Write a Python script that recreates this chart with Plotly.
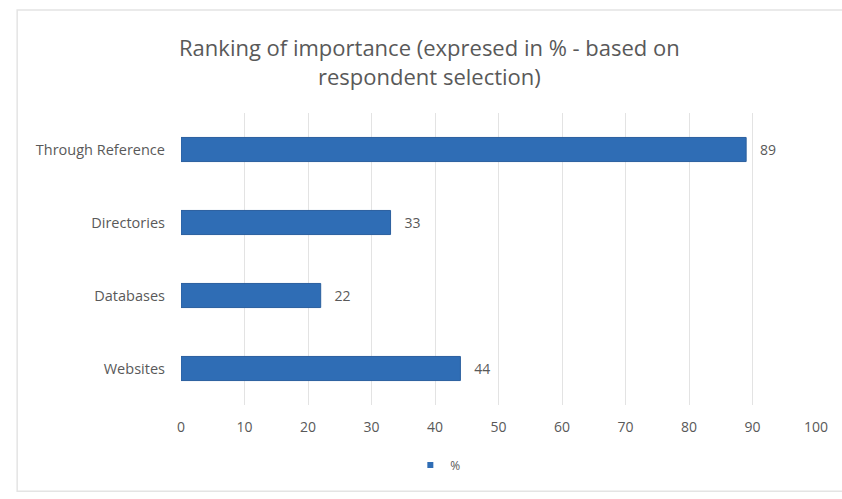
import plotly.graph_objects as go

categories = ["Through Reference", "Directories", "Databases", "Websites"]
values = [89, 33, 22, 44]
x_ticks = [0, 10, 20, 30, 40, 50, 60, 70, 80, 90, 100]

bar_color = "#2F6DB5"
text_color = "#595959"
font_family = "Open Sans"

fig = go.Figure()

fig.add_trace(
    go.Bar(
        y=categories,
        x=values,
        orientation="h",
        name="%",
        marker=dict(color=bar_color, line=dict(color="#2A5F9E", width=1)),
        width=0.33,
        texttemplate="   %{x}",
        textposition="outside",
        textfont=dict(family=font_family, size=14, color=text_color),
        cliponaxis=False,
        showlegend=False,
    )
)

# legend entry with a small square key
fig.add_trace(
    go.Scatter(
        x=[None],
        y=[None],
        mode="markers",
        name="%",
        marker=dict(symbol="square", size=6, color=bar_color),
        showlegend=True,
    )
)

fig.update_layout(
    width=842,
    height=499,
    margin=dict(l=181, r=26, t=113, b=94),
    paper_bgcolor="white",
    plot_bgcolor="white",
    title=dict(
        text="Ranking of importance (expresed in % - based on<br>respondent selection)",
        x=0.51,
        xref="container",
        xanchor="center",
        y=0.887,
        yanchor="middle",
        font=dict(family=font_family, size=22, color="#595959"),
    ),
    xaxis=dict(
        range=[0, 100],
        tickvals=x_ticks,
        showgrid=True,
        gridcolor="#E3E3E3",
        gridwidth=1,
        zeroline=False,
        showline=False,
        ticks="",
        tickfont=dict(family=font_family, size=14, color=text_color),
        ticklabelstandoff=12,
    ),
    yaxis=dict(
        autorange="reversed",
        showgrid=False,
        showline=False,
        ticks="",
        ticksuffix="    ",
        tickfont=dict(family=font_family, size=14.5, color=text_color),
    ),
    bargap=0.67,
    legend=dict(
        orientation="h",
        xref="container",
        yref="container",
        x=0.52,
        y=0.068,
        xanchor="center",
        yanchor="middle",
        font=dict(family=font_family, size=12, color=text_color),
        itemwidth=30,
    ),
    shapes=[
        dict(
            type="rect",
            xref="paper",
            yref="paper",
            x0=-0.258,
            x1=1.045,
            y0=-0.295,
            y1=1.353,
            line=dict(color="#E4E4E4", width=1.5),
        )
    ],
)

fig.write_html("out.html")
